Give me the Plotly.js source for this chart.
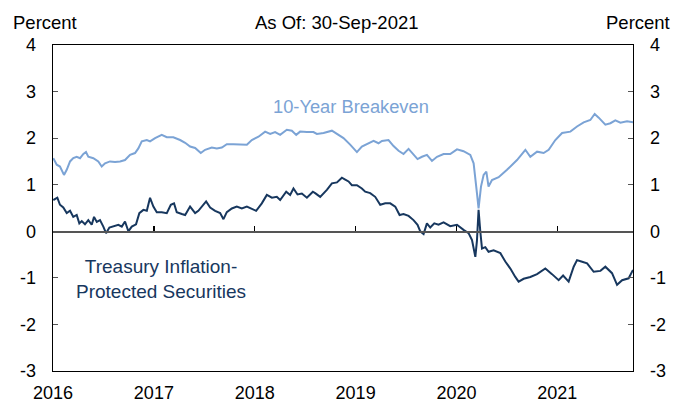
<!DOCTYPE html>
<html>
<head>
<meta charset="utf-8">
<script src="https://cdn.plot.ly/plotly-3.0.1.min.js"></script>
<style>html,body{margin:0;padding:0;background:#fff;}#chart{width:674px;height:403px;}</style>
</head>
<body>
<div id="chart"></div>
<script>
// Time in decimal years (2016.0 = 1 Jan 2016)
// 10-Year Breakeven (percent)
var beYears = [2016.003,2016.037,2016.069,2016.109,2016.136,2016.169,2016.201,2016.235,2016.268,2016.301,2016.327,2016.350,2016.400,2016.449,2016.483,2016.516,2016.565,2016.615,2016.665,2016.714,2016.764,2016.813,2016.846,2016.880,2016.930,2016.962,2017.012,2017.078,2017.128,2017.193,2017.260,2017.310,2017.359,2017.409,2017.465,2017.508,2017.574,2017.624,2017.674,2017.723,2017.789,2017.855,2017.922,2017.971,2018.037,2018.103,2018.153,2018.202,2018.252,2018.318,2018.368,2018.411,2018.450,2018.517,2018.582,2018.616,2018.682,2018.765,2018.830,2018.880,2018.946,2019.013,2019.062,2019.112,2019.178,2019.227,2019.261,2019.326,2019.376,2019.426,2019.475,2019.525,2019.574,2019.614,2019.658,2019.707,2019.757,2019.807,2019.872,2019.938,2020.005,2020.070,2020.137,2020.170,2020.203,2020.219,2020.243,2020.269,2020.296,2020.318,2020.352,2020.418,2020.501,2020.600,2020.683,2020.732,2020.799,2020.864,2020.914,2020.980,2021.047,2021.129,2021.195,2021.261,2021.327,2021.370,2021.410,2021.476,2021.526,2021.575,2021.625,2021.691,2021.750];
var beValues = [1.57,1.43,1.39,1.21,1.32,1.50,1.57,1.60,1.57,1.66,1.70,1.60,1.57,1.50,1.39,1.46,1.50,1.49,1.50,1.53,1.64,1.68,1.78,1.93,1.96,1.93,2.00,2.07,2.02,2.02,1.96,1.90,1.82,1.79,1.68,1.75,1.80,1.78,1.80,1.87,1.87,1.86,1.86,1.96,2.03,2.14,2.09,2.13,2.07,2.18,2.16,2.07,2.14,2.13,2.13,2.09,2.11,2.16,2.07,2.00,1.86,1.70,1.82,1.87,1.94,1.89,1.94,1.96,1.83,1.73,1.66,1.77,1.64,1.55,1.60,1.64,1.51,1.60,1.66,1.66,1.76,1.72,1.64,1.46,0.82,0.49,0.96,1.21,1.28,0.96,1.10,1.16,1.32,1.53,1.75,1.60,1.71,1.68,1.75,1.96,2.11,2.14,2.25,2.34,2.39,2.52,2.44,2.29,2.32,2.38,2.33,2.36,2.34];

// Treasury Inflation-Protected Securities (percent)
var tipsYears = [2016.003,2016.043,2016.069,2016.102,2016.136,2016.169,2016.201,2016.235,2016.261,2016.285,2016.317,2016.350,2016.384,2016.407,2016.434,2016.466,2016.499,2016.526,2016.559,2016.598,2016.648,2016.682,2016.714,2016.747,2016.781,2016.823,2016.856,2016.896,2016.930,2016.962,2016.995,2017.029,2017.078,2017.128,2017.168,2017.200,2017.227,2017.277,2017.310,2017.359,2017.409,2017.441,2017.475,2017.518,2017.558,2017.607,2017.657,2017.690,2017.723,2017.773,2017.822,2017.872,2017.922,2017.971,2018.014,2018.070,2018.120,2018.170,2018.219,2018.252,2018.312,2018.351,2018.384,2018.424,2018.467,2018.517,2018.576,2018.599,2018.649,2018.715,2018.765,2018.815,2018.864,2018.897,2018.930,2018.963,2019.013,2019.062,2019.095,2019.145,2019.194,2019.244,2019.294,2019.343,2019.393,2019.436,2019.475,2019.525,2019.574,2019.614,2019.641,2019.674,2019.707,2019.740,2019.780,2019.822,2019.872,2019.938,2020.005,2020.070,2020.120,2020.154,2020.187,2020.203,2020.219,2020.236,2020.253,2020.286,2020.318,2020.368,2020.435,2020.484,2020.534,2020.583,2020.616,2020.666,2020.732,2020.799,2020.881,2020.947,2021.013,2021.057,2021.112,2021.162,2021.195,2021.238,2021.295,2021.360,2021.427,2021.476,2021.542,2021.592,2021.642,2021.707,2021.750];
var tipsValues = [0.67,0.72,0.57,0.51,0.39,0.44,0.31,0.35,0.17,0.22,0.15,0.24,0.14,0.31,0.20,0.24,0.10,-0.04,0.08,0.10,0.14,0.10,0.21,0.00,0.10,0.15,0.39,0.46,0.44,0.72,0.53,0.41,0.41,0.39,0.57,0.60,0.41,0.37,0.35,0.53,0.39,0.44,0.53,0.64,0.51,0.44,0.39,0.26,0.41,0.49,0.53,0.49,0.53,0.49,0.44,0.60,0.78,0.72,0.74,0.67,0.85,0.78,0.92,0.79,0.81,0.72,0.85,0.82,0.74,0.89,1.03,1.05,1.15,1.11,1.07,0.99,0.99,0.92,0.85,0.82,0.74,0.57,0.60,0.60,0.53,0.35,0.37,0.33,0.24,0.14,0.00,-0.06,0.17,0.08,0.17,0.14,0.19,0.11,0.14,0.03,-0.04,-0.19,-0.55,-0.20,0.46,0.00,-0.37,-0.34,-0.44,-0.41,-0.47,-0.65,-0.80,-0.98,-1.08,-1.02,-0.98,-0.92,-0.80,-0.92,-1.05,-0.95,-1.08,-0.76,-0.62,-0.65,-0.69,-0.87,-0.85,-0.76,-0.90,-1.15,-1.05,-1.01,-0.83];

var yearTickVals = [2016, 2017, 2018, 2019, 2020, 2021];
var yearTickText = ['2016','2017','2018','2019','2020','2021'];
var yTickVals = [-3,-2,-1,0,1,2,3,4];
var yTickText = ['-3','-2','-1','0','1','2','3','4'];
var xRange = [2016, 2021.75];

var FONT = 'Liberation Sans, Arial, sans-serif';
var BE_COLOR = '#7BA3D5';
var TIPS_COLOR = '#17375E';

var traces = [
  {x: beYears, y: beValues, xaxis: 'x', yaxis: 'y', type: 'scatter', mode: 'lines',
   line: {color: BE_COLOR, width: 2}, hoverinfo: 'skip'},
  {x: tipsYears, y: tipsValues, xaxis: 'x2', yaxis: 'y2', type: 'scatter', mode: 'lines',
   line: {color: TIPS_COLOR, width: 2}, hoverinfo: 'skip'}
];

var layout = {
  width: 674, height: 403,
  margin: {l: 53, r: 41, t: 45, b: 32, pad: 0},
  paper_bgcolor: '#ffffff', plot_bgcolor: '#ffffff',
  showlegend: false,
  font: {family: FONT, size: 18, color: '#000'},
  xaxis: {
    range: xRange, showgrid: false, zeroline: false,
    showline: true, mirror: true, linecolor: '#000', linewidth: 1.3,
    ticks: '', tickmode: 'array', tickvals: yearTickVals, ticktext: yearTickText,
    ticklabelstandoff: 5, tickfont: {family: FONT, size: 18, color: '#000'}
  },
  xaxis2: {
    range: xRange, overlaying: 'x', anchor: 'free', position: 3/7,
    showgrid: false, zeroline: false, showline: true, linecolor: '#555', linewidth: 1.3,
    ticks: 'inside', ticklen: 5, tickwidth: 1.3, tickcolor: '#000',
    tickmode: 'array', tickvals: yearTickVals, showticklabels: false
  },
  yaxis: {
    range: [-3, 4], showgrid: false, zeroline: false,
    showline: true, linecolor: '#000', linewidth: 1.3,
    ticks: 'inside', ticklen: 5, tickwidth: 1, tickcolor: '#555',
    tickmode: 'array', tickvals: yTickVals, ticktext: yTickText,
    ticklabelstandoff: 12, tickfont: {family: FONT, size: 18, color: '#000'}
  },
  yaxis2: {
    range: [-3, 4], overlaying: 'y', side: 'right', anchor: 'x', showgrid: false, zeroline: false,
    showline: true, linecolor: '#000', linewidth: 1.3,
    ticks: 'inside', ticklen: 5, tickwidth: 1, tickcolor: '#555',
    tickmode: 'array', tickvals: yTickVals, ticktext: yTickText,
    ticklabelstandoff: 12, tickfont: {family: FONT, size: 18, color: '#000'}
  },
  annotations: [
    {text: 'Percent', xref: 'paper', yref: 'paper', x: -0.013, y: 1.0, yshift: 23,
     xanchor: 'center', yanchor: 'middle', showarrow: false, font: {family: FONT, size: 18.5, color: '#000'}},
    {text: 'Percent', xref: 'paper', yref: 'paper', x: 1.0, xshift: 39, y: 1.0, yshift: 23,
     xanchor: 'right', yanchor: 'middle', showarrow: false, font: {family: FONT, size: 18.5, color: '#000'}},
    {text: 'As Of: 30-Sep-2021', xref: 'paper', yref: 'paper', x: 0.5, xshift: -6, y: 1.0, yshift: 23,
     xanchor: 'center', yanchor: 'middle', showarrow: false, font: {family: FONT, size: 18.5, color: '#000'}},
    {text: '10-Year Breakeven', xref: 'paper', yref: 'paper', x: 0.514, y: 0.811,
     xanchor: 'center', yanchor: 'middle', showarrow: false, font: {family: FONT, size: 18.3, color: BE_COLOR}},
    {text: 'Treasury Inflation-<br>Protected Securities', xref: 'paper', yref: 'paper', x: 0.186, y: 0.282,
     xanchor: 'center', yanchor: 'middle', align: 'center', showarrow: false,
     font: {family: FONT, size: 19, color: TIPS_COLOR}}
  ]
};

Plotly.newPlot('chart', traces, layout, {staticPlot: true, displayModeBar: false});
</script>
</body>
</html>
